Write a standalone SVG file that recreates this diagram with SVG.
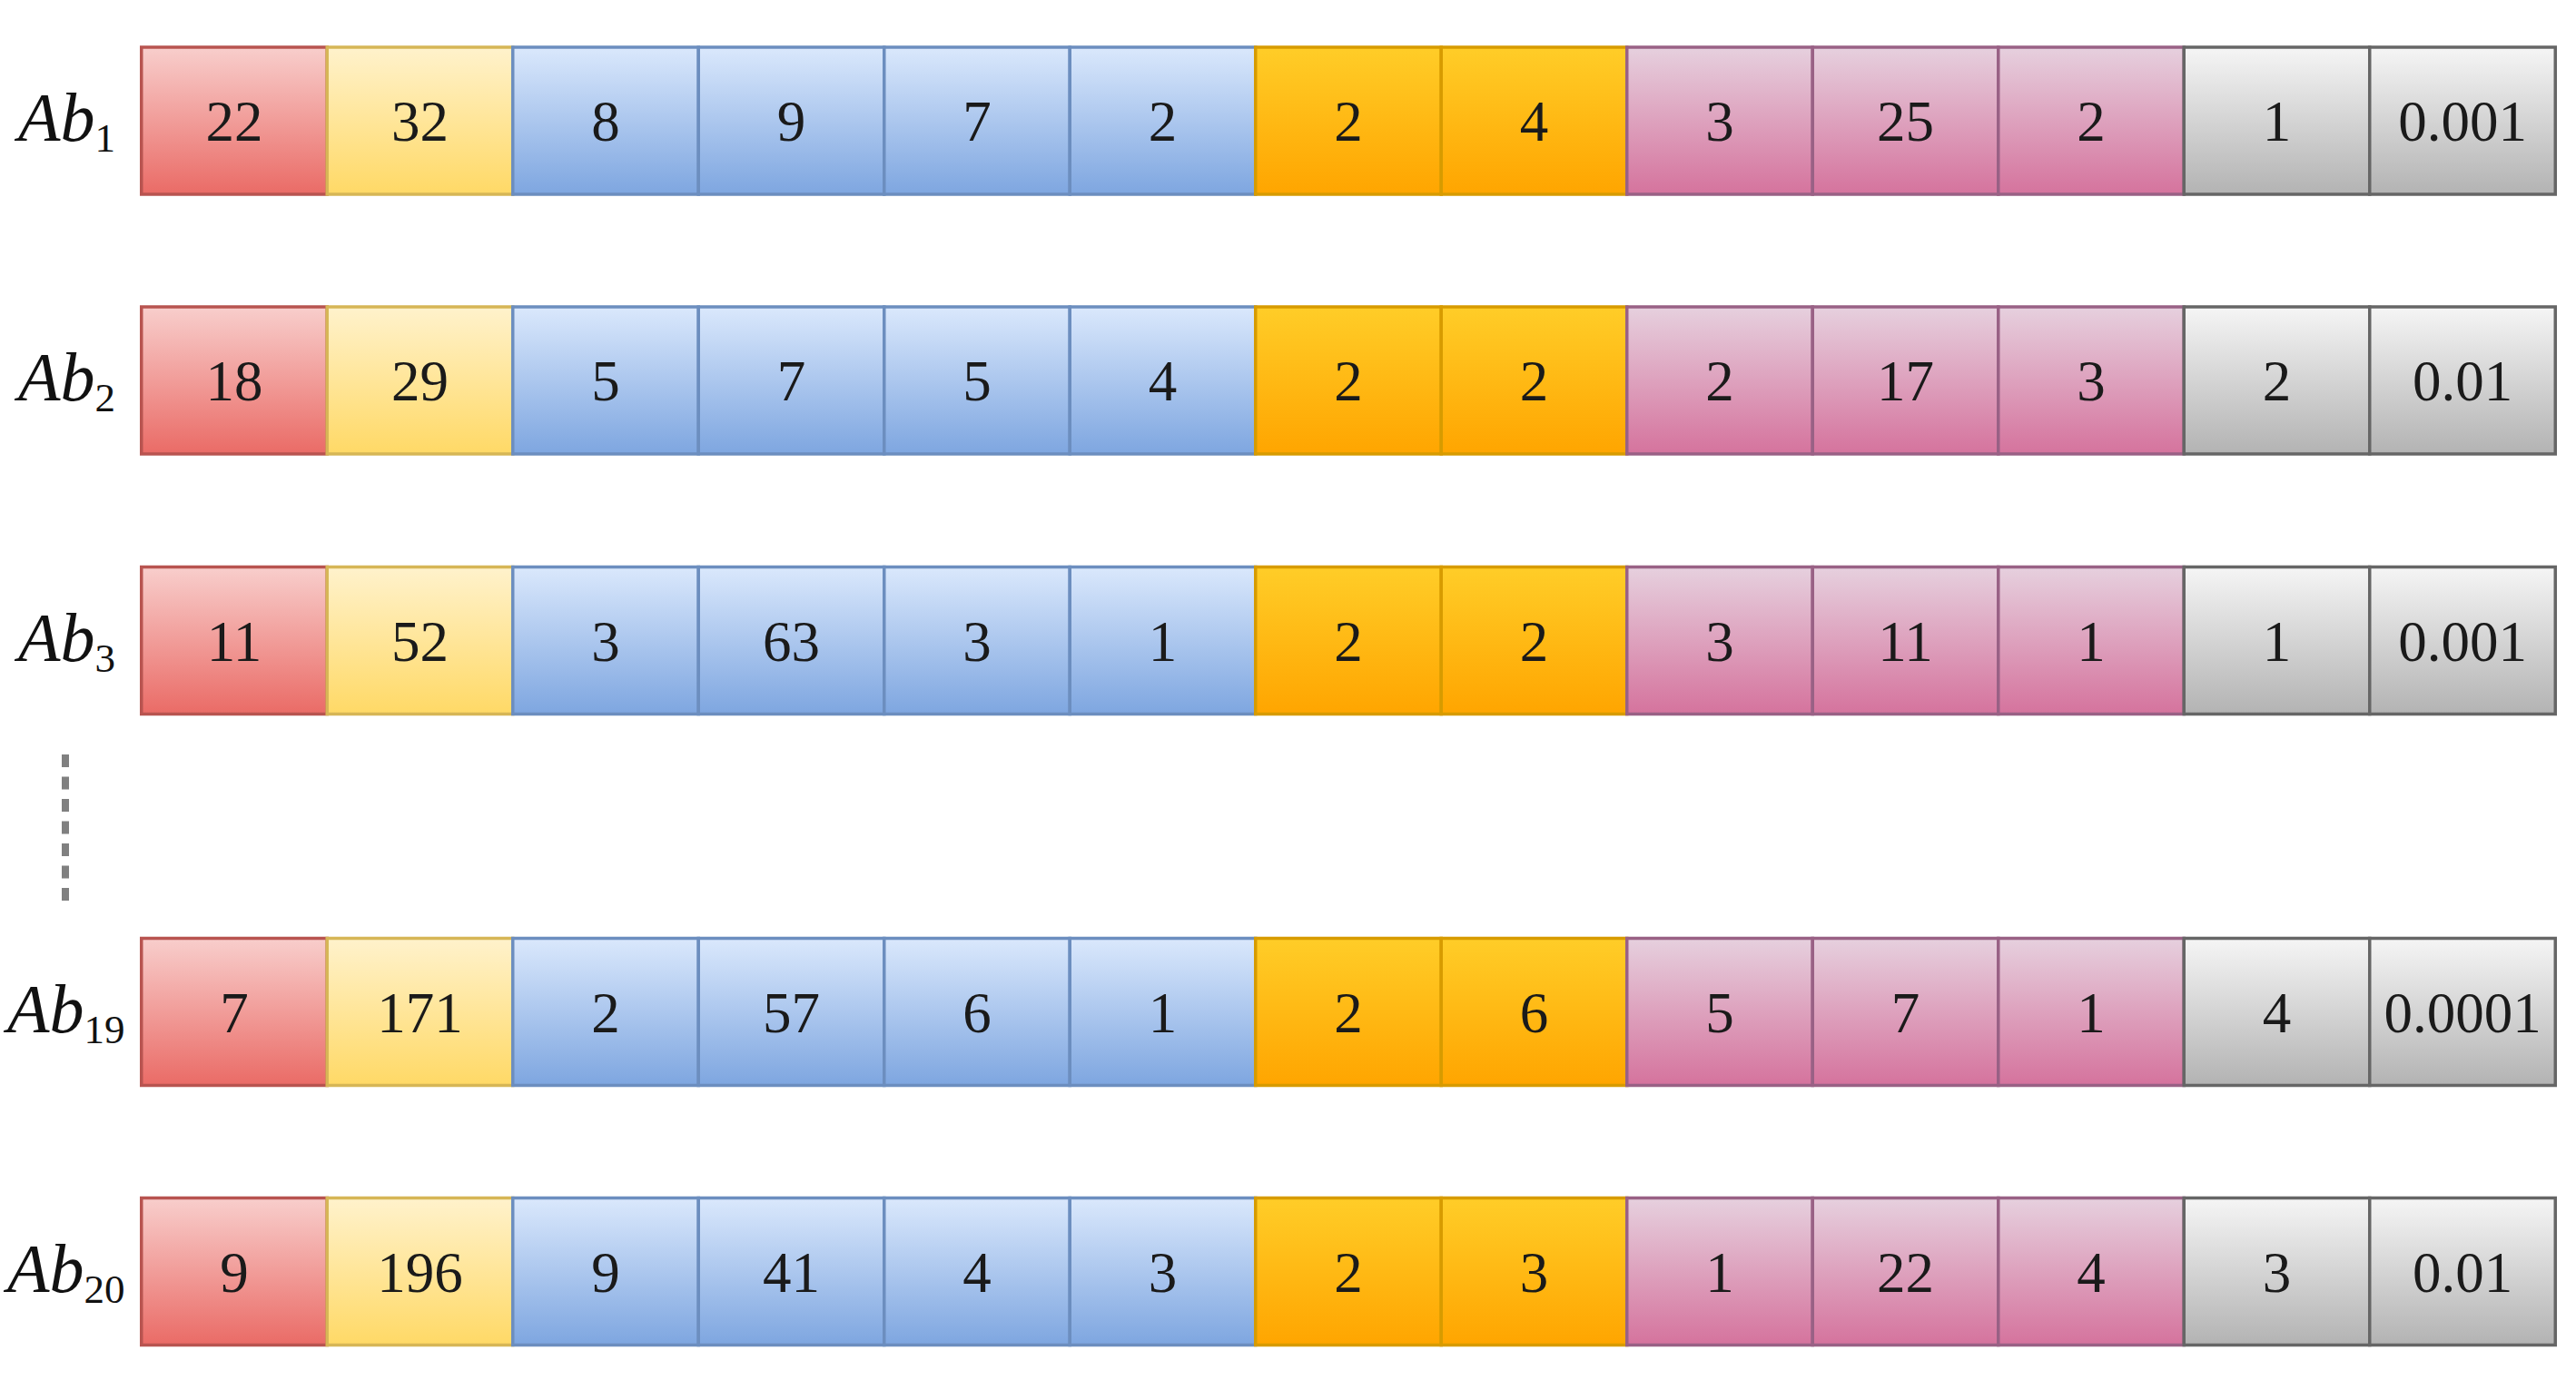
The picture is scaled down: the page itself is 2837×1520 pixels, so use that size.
<svg xmlns="http://www.w3.org/2000/svg" width="2837" height="1520" viewBox="0 0 2837 1520">
<defs>
<linearGradient id="gRed" x1="0" y1="0" x2="0" y2="1"><stop offset="0" stop-color="#f8cecc"/><stop offset="1" stop-color="#ea6b66"/></linearGradient>
<linearGradient id="gYel" x1="0" y1="0" x2="0" y2="1"><stop offset="0" stop-color="#fff2cc"/><stop offset="1" stop-color="#ffd966"/></linearGradient>
<linearGradient id="gBlu" x1="0" y1="0" x2="0" y2="1"><stop offset="0" stop-color="#dae8fc"/><stop offset="1" stop-color="#7ea6e0"/></linearGradient>
<linearGradient id="gOra" x1="0" y1="0" x2="0" y2="1"><stop offset="0" stop-color="#ffcd28"/><stop offset="1" stop-color="#ffa500"/></linearGradient>
<linearGradient id="gPnk" x1="0" y1="0" x2="0" y2="1"><stop offset="0" stop-color="#e6d0de"/><stop offset="1" stop-color="#d5739d"/></linearGradient>
<linearGradient id="gGry" x1="0" y1="0" x2="0" y2="1"><stop offset="0" stop-color="#f5f5f5"/><stop offset="1" stop-color="#b3b3b3"/></linearGradient>
</defs>
<style>
rect{stroke-width:3.5}
.r{fill:url(#gRed);stroke:#b85450}
.y{fill:url(#gYel);stroke:#d6b656}
.b{fill:url(#gBlu);stroke:#6c8ebf}
.o{fill:url(#gOra);stroke:#d79b00}
.p{fill:url(#gPnk);stroke:#996185}
.g{fill:url(#gGry);stroke:#666666}
.v{font-family:"Liberation Serif","Times New Roman",serif;font-size:63px;fill:#1a1a1a;text-anchor:middle}
.lab{font-family:"Liberation Serif","Times New Roman",serif;font-size:76px;font-style:italic;fill:#111}
.sub{font-size:45px;font-style:normal}
</style>
<rect x="0" y="0" width="2837" height="1520" fill="#ffffff" style="stroke:none"/>

<g id="row-ab1">
<text class="lab" x="20" y="155">Ab<tspan class="sub" dy="12">1</tspan></text>
<g id="ab1-c1"><rect class="r" x="155.75" y="52" width="204.5" height="162"/><text class="v" x="258" y="155">22</text></g>
<g id="ab1-c2"><rect class="y" x="360.25" y="52" width="204.5" height="162"/><text class="v" x="462.5" y="155">32</text></g>
<g id="ab1-c3"><rect class="b" x="564.75" y="52" width="204.5" height="162"/><text class="v" x="667" y="155">8</text></g>
<g id="ab1-c4"><rect class="b" x="769.25" y="52" width="204.5" height="162"/><text class="v" x="871.5" y="155">9</text></g>
<g id="ab1-c5"><rect class="b" x="973.75" y="52" width="204.5" height="162"/><text class="v" x="1076" y="155">7</text></g>
<g id="ab1-c6"><rect class="b" x="1178.25" y="52" width="204.5" height="162"/><text class="v" x="1280.5" y="155">2</text></g>
<g id="ab1-c7"><rect class="o" x="1382.75" y="52" width="204.5" height="162"/><text class="v" x="1485" y="155">2</text></g>
<g id="ab1-c8"><rect class="o" x="1587.25" y="52" width="204.5" height="162"/><text class="v" x="1689.5" y="155">4</text></g>
<g id="ab1-c9"><rect class="p" x="1791.75" y="52" width="204.5" height="162"/><text class="v" x="1894" y="155">3</text></g>
<g id="ab1-c10"><rect class="p" x="1996.25" y="52" width="204.5" height="162"/><text class="v" x="2098.5" y="155">25</text></g>
<g id="ab1-c11"><rect class="p" x="2200.75" y="52" width="204.5" height="162"/><text class="v" x="2303" y="155">2</text></g>
<g id="ab1-c12"><rect class="g" x="2405.25" y="52" width="204.5" height="162"/><text class="v" x="2507.5" y="155">1</text></g>
<g id="ab1-c13"><rect class="g" x="2609.75" y="52" width="204.5" height="162"/><text class="v" x="2712" y="155">0.001</text></g>
</g>

<g id="row-ab2">
<text class="lab" x="20" y="441">Ab<tspan class="sub" dy="12">2</tspan></text>
<g id="ab2-c1"><rect class="r" x="155.75" y="338" width="204.5" height="162"/><text class="v" x="258" y="441">18</text></g>
<g id="ab2-c2"><rect class="y" x="360.25" y="338" width="204.5" height="162"/><text class="v" x="462.5" y="441">29</text></g>
<g id="ab2-c3"><rect class="b" x="564.75" y="338" width="204.5" height="162"/><text class="v" x="667" y="441">5</text></g>
<g id="ab2-c4"><rect class="b" x="769.25" y="338" width="204.5" height="162"/><text class="v" x="871.5" y="441">7</text></g>
<g id="ab2-c5"><rect class="b" x="973.75" y="338" width="204.5" height="162"/><text class="v" x="1076" y="441">5</text></g>
<g id="ab2-c6"><rect class="b" x="1178.25" y="338" width="204.5" height="162"/><text class="v" x="1280.5" y="441">4</text></g>
<g id="ab2-c7"><rect class="o" x="1382.75" y="338" width="204.5" height="162"/><text class="v" x="1485" y="441">2</text></g>
<g id="ab2-c8"><rect class="o" x="1587.25" y="338" width="204.5" height="162"/><text class="v" x="1689.5" y="441">2</text></g>
<g id="ab2-c9"><rect class="p" x="1791.75" y="338" width="204.5" height="162"/><text class="v" x="1894" y="441">2</text></g>
<g id="ab2-c10"><rect class="p" x="1996.25" y="338" width="204.5" height="162"/><text class="v" x="2098.5" y="441">17</text></g>
<g id="ab2-c11"><rect class="p" x="2200.75" y="338" width="204.5" height="162"/><text class="v" x="2303" y="441">3</text></g>
<g id="ab2-c12"><rect class="g" x="2405.25" y="338" width="204.5" height="162"/><text class="v" x="2507.5" y="441">2</text></g>
<g id="ab2-c13"><rect class="g" x="2609.75" y="338" width="204.5" height="162"/><text class="v" x="2712" y="441">0.01</text></g>
</g>

<g id="row-ab3">
<text class="lab" x="20" y="727.5">Ab<tspan class="sub" dy="12">3</tspan></text>
<g id="ab3-c1"><rect class="r" x="155.75" y="624.5" width="204.5" height="162"/><text class="v" x="258" y="727.5">11</text></g>
<g id="ab3-c2"><rect class="y" x="360.25" y="624.5" width="204.5" height="162"/><text class="v" x="462.5" y="727.5">52</text></g>
<g id="ab3-c3"><rect class="b" x="564.75" y="624.5" width="204.5" height="162"/><text class="v" x="667" y="727.5">3</text></g>
<g id="ab3-c4"><rect class="b" x="769.25" y="624.5" width="204.5" height="162"/><text class="v" x="871.5" y="727.5">63</text></g>
<g id="ab3-c5"><rect class="b" x="973.75" y="624.5" width="204.5" height="162"/><text class="v" x="1076" y="727.5">3</text></g>
<g id="ab3-c6"><rect class="b" x="1178.25" y="624.5" width="204.5" height="162"/><text class="v" x="1280.5" y="727.5">1</text></g>
<g id="ab3-c7"><rect class="o" x="1382.75" y="624.5" width="204.5" height="162"/><text class="v" x="1485" y="727.5">2</text></g>
<g id="ab3-c8"><rect class="o" x="1587.25" y="624.5" width="204.5" height="162"/><text class="v" x="1689.5" y="727.5">2</text></g>
<g id="ab3-c9"><rect class="p" x="1791.75" y="624.5" width="204.5" height="162"/><text class="v" x="1894" y="727.5">3</text></g>
<g id="ab3-c10"><rect class="p" x="1996.25" y="624.5" width="204.5" height="162"/><text class="v" x="2098.5" y="727.5">11</text></g>
<g id="ab3-c11"><rect class="p" x="2200.75" y="624.5" width="204.5" height="162"/><text class="v" x="2303" y="727.5">1</text></g>
<g id="ab3-c12"><rect class="g" x="2405.25" y="624.5" width="204.5" height="162"/><text class="v" x="2507.5" y="727.5">1</text></g>
<g id="ab3-c13"><rect class="g" x="2609.75" y="624.5" width="204.5" height="162"/><text class="v" x="2712" y="727.5">0.001</text></g>
</g>

<g id="ellipsis">
<line x1="72" y1="831" x2="72" y2="993" stroke="#808080" stroke-width="8" stroke-dasharray="14 10.5"/>
</g>

<g id="row-ab19">
<text class="lab" x="8" y="1136.5">Ab<tspan class="sub" dy="12">19</tspan></text>
<g id="ab19-c1"><rect class="r" x="155.75" y="1033.5" width="204.5" height="162"/><text class="v" x="258" y="1136.5">7</text></g>
<g id="ab19-c2"><rect class="y" x="360.25" y="1033.5" width="204.5" height="162"/><text class="v" x="462.5" y="1136.5">171</text></g>
<g id="ab19-c3"><rect class="b" x="564.75" y="1033.5" width="204.5" height="162"/><text class="v" x="667" y="1136.5">2</text></g>
<g id="ab19-c4"><rect class="b" x="769.25" y="1033.5" width="204.5" height="162"/><text class="v" x="871.5" y="1136.5">57</text></g>
<g id="ab19-c5"><rect class="b" x="973.75" y="1033.5" width="204.5" height="162"/><text class="v" x="1076" y="1136.5">6</text></g>
<g id="ab19-c6"><rect class="b" x="1178.25" y="1033.5" width="204.5" height="162"/><text class="v" x="1280.5" y="1136.5">1</text></g>
<g id="ab19-c7"><rect class="o" x="1382.75" y="1033.5" width="204.5" height="162"/><text class="v" x="1485" y="1136.5">2</text></g>
<g id="ab19-c8"><rect class="o" x="1587.25" y="1033.5" width="204.5" height="162"/><text class="v" x="1689.5" y="1136.5">6</text></g>
<g id="ab19-c9"><rect class="p" x="1791.75" y="1033.5" width="204.5" height="162"/><text class="v" x="1894" y="1136.5">5</text></g>
<g id="ab19-c10"><rect class="p" x="1996.25" y="1033.5" width="204.5" height="162"/><text class="v" x="2098.5" y="1136.5">7</text></g>
<g id="ab19-c11"><rect class="p" x="2200.75" y="1033.5" width="204.5" height="162"/><text class="v" x="2303" y="1136.5">1</text></g>
<g id="ab19-c12"><rect class="g" x="2405.25" y="1033.5" width="204.5" height="162"/><text class="v" x="2507.5" y="1136.5">4</text></g>
<g id="ab19-c13"><rect class="g" x="2609.75" y="1033.5" width="204.5" height="162"/><text class="v" x="2712" y="1136.5">0.0001</text></g>
</g>

<g id="row-ab20">
<text class="lab" x="8" y="1422.5">Ab<tspan class="sub" dy="12">20</tspan></text>
<g id="ab20-c1"><rect class="r" x="155.75" y="1319.5" width="204.5" height="162"/><text class="v" x="258" y="1422.5">9</text></g>
<g id="ab20-c2"><rect class="y" x="360.25" y="1319.5" width="204.5" height="162"/><text class="v" x="462.5" y="1422.5">196</text></g>
<g id="ab20-c3"><rect class="b" x="564.75" y="1319.5" width="204.5" height="162"/><text class="v" x="667" y="1422.5">9</text></g>
<g id="ab20-c4"><rect class="b" x="769.25" y="1319.5" width="204.5" height="162"/><text class="v" x="871.5" y="1422.5">41</text></g>
<g id="ab20-c5"><rect class="b" x="973.75" y="1319.5" width="204.5" height="162"/><text class="v" x="1076" y="1422.5">4</text></g>
<g id="ab20-c6"><rect class="b" x="1178.25" y="1319.5" width="204.5" height="162"/><text class="v" x="1280.5" y="1422.5">3</text></g>
<g id="ab20-c7"><rect class="o" x="1382.75" y="1319.5" width="204.5" height="162"/><text class="v" x="1485" y="1422.5">2</text></g>
<g id="ab20-c8"><rect class="o" x="1587.25" y="1319.5" width="204.5" height="162"/><text class="v" x="1689.5" y="1422.5">3</text></g>
<g id="ab20-c9"><rect class="p" x="1791.75" y="1319.5" width="204.5" height="162"/><text class="v" x="1894" y="1422.5">1</text></g>
<g id="ab20-c10"><rect class="p" x="1996.25" y="1319.5" width="204.5" height="162"/><text class="v" x="2098.5" y="1422.5">22</text></g>
<g id="ab20-c11"><rect class="p" x="2200.75" y="1319.5" width="204.5" height="162"/><text class="v" x="2303" y="1422.5">4</text></g>
<g id="ab20-c12"><rect class="g" x="2405.25" y="1319.5" width="204.5" height="162"/><text class="v" x="2507.5" y="1422.5">3</text></g>
<g id="ab20-c13"><rect class="g" x="2609.75" y="1319.5" width="204.5" height="162"/><text class="v" x="2712" y="1422.5">0.01</text></g>
</g>
</svg>
